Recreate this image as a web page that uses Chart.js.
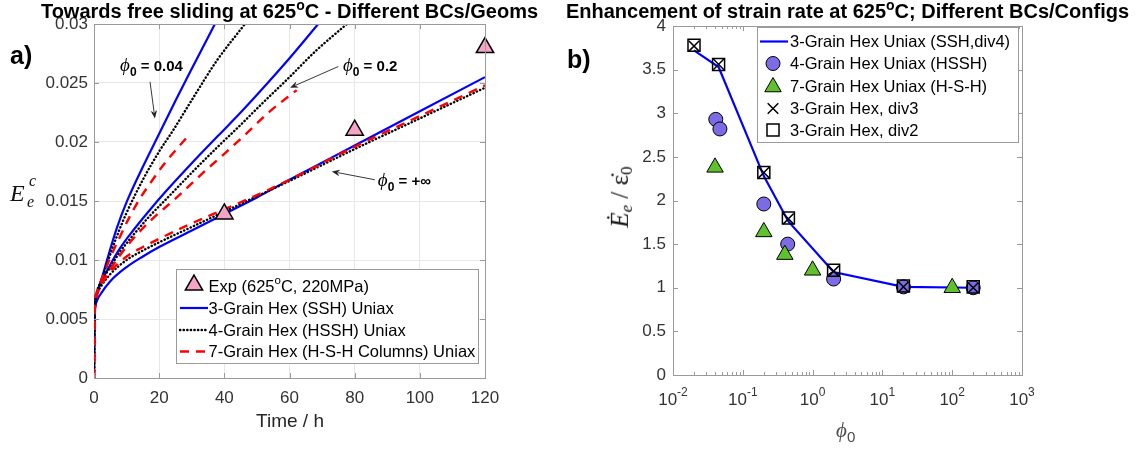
<!DOCTYPE html>
<html><head><meta charset="utf-8">
<script src="https://cdn.jsdelivr.net/npm/chart.js@4.4.1/dist/chart.umd.min.js"></script>
<style>
html,body{margin:0;padding:0;background:#fff;}
body{width:1148px;height:451px;position:relative;overflow:hidden;font-family:"Liberation Sans",Arial,sans-serif;}
canvas{position:absolute;top:0;}
.lbl{position:absolute;white-space:nowrap;line-height:1;}
.ttl{font-weight:bold;font-size:20px;color:#000;transform:translateX(-50%);top:1px;}
.ttl sup{font-size:0.7em;vertical-align:0;position:relative;top:-0.55em;line-height:0;}
.serif{font-family:"Liberation Serif","DejaVu Serif",serif;}
</style></head><body>
<canvas id="cA" width="560" height="451" style="left:0;width:560px;height:451px"></canvas>
<canvas id="cB" width="588" height="451" style="left:560px;width:588px;height:451px"></canvas>
<div class="lbl ttl" style="left:289.5px">Towards free sliding at 625<sup>o</sup>C - Different BCs/Geoms</div>
<div class="lbl ttl" style="left:847.5px">Enhancement of strain rate at 625<sup>o</sup>C; Different BCs/Configs</div>
<div class="lbl" style="left:10px;top:43px;font-weight:bold;font-size:25px">a)</div>
<div class="lbl" style="left:567px;top:47px;font-weight:bold;font-size:25px">b)</div>
<div class="lbl" style="left:290px;top:411px;font-size:19px;color:#262626;transform:translateX(-50%)">Time / h</div>
<div class="lbl serif" style="left:10px;top:181px;font-size:24px;font-style:italic;color:#111">E</div>
<div class="lbl serif" style="left:29px;top:173px;font-size:16px;font-style:italic;color:#111">c</div>
<div class="lbl serif" style="left:27px;top:194px;font-size:16px;font-style:italic;color:#111">e</div>
<div class="lbl serif" style="left:621px;top:197px;transform:translate(-50%,-50%) rotate(-90deg);font-size:25px;color:#111"><i>Ė</i><sub style="font-size:0.68em;font-style:italic;vertical-align:-0.25em">e</sub> / <span>ε̇</span><sub style="font-size:0.68em;vertical-align:-0.25em">0</sub></div>
<div class="lbl serif" style="left:836px;top:420px;font-size:21px;font-style:italic;color:#4d4d4d">ϕ<sub style="font-size:0.72em;font-style:normal;font-family:'Liberation Sans',Arial,sans-serif;vertical-align:-0.3em">0</sub></div>
<script>
// ---------- Panel a) data: time (h) and equivalent creep strain ----------
const expTime   = [40, 80, 120];
const expStrain = [0.0139, 0.0210, 0.0280];

// phi0 = 0.04
const tBlue004  = [0,0.1,0.3,1,2,4,7,10,15,20,25,30,37.1];
const eBlue004  = [0,0.0045,0.0062,0.0073,0.0081,0.0100,0.0127,0.0149,0.0179,0.0207,0.0235,0.0262,0.0300];
const tBlack004 = [0,0.1,0.3,1,2,4,7,10,15,20,24.3,31,37.7,46.3];
const eBlack004 = [0,0.0045,0.0062,0.0074,0.0081,0.0097,0.0120,0.0140,0.0168,0.0192,0.0210,0.0240,0.0269,0.0300];
const tRed004   = [0,0.1,0.3,1,2,5,8,11,14.1,18,22,26,29.5];
const eRed004   = [0,0.0045,0.0062,0.0074,0.0081,0.0102,0.0120,0.0137,0.0152,0.0168,0.0183,0.0196,0.0207];
// phi0 = 0.2
const tBlue02   = [0,0.1,0.3,1,2,5,8,12,17,22,30,38,45,51,60,68.8];
const eBlue02   = [0,0.0045,0.0060,0.0072,0.0080,0.0096,0.0110,0.0125,0.0142,0.0158,0.0182,0.0205,0.0225,0.0243,0.0271,0.0300];
const tBlack02  = [0,0.1,0.3,1,2,5,8,12,17,23,30,38,44.8,51,60,68,77.6];
const eBlack02  = [0,0.0045,0.0060,0.0072,0.0080,0.0094,0.0107,0.0121,0.0137,0.0154,0.0174,0.0196,0.0214,0.0231,0.0255,0.0277,0.0300];
const tRed02    = [0,0.1,0.3,1,2,5,8,12,18,25.4,33.5,40,46.3,54,62.2];
const eRed02    = [0,0.0045,0.0060,0.0071,0.0078,0.0092,0.0104,0.0118,0.0135,0.0153,0.0174,0.0190,0.0206,0.0226,0.0244];
// phi0 = +inf
const tBlueInf  = [0,0.1,0.3,1,2,5,10,15,20,30,40,50,60,80,100,120];
const eBlueInf  = [0,0.0045,0.0058,0.0066,0.0071,0.0082,0.0094,0.0103,0.0111,0.0125,0.0139,0.0153,0.0168,0.0197,0.0226,0.0255];
const tBlackInf = [0,0.1,0.3,1,2,5,10,15,20,30,40,50,60,80,100,120];
const eBlackInf = [0,0.0045,0.0060,0.0071,0.0077,0.0088,0.0100,0.0108,0.0115,0.0128,0.0141,0.0154,0.0167,0.0194,0.0220,0.0246];
const tRedInf   = [0,0.1,0.3,1,2,5,10,15,20,30,40,50,60,80,100,120];
const eRedInf   = [0,0.0045,0.0060,0.0072,0.0078,0.0090,0.0103,0.0111,0.0118,0.0131,0.0143,0.0155,0.0168,0.0196,0.0222,0.0248];

const xTicksA = [0,20,40,60,80,100,120];
const yTicksA = [0,0.005,0.01,0.015,0.02,0.025,0.03];

// annotation anchors (data units): label start, arrow tail, arrow head
const annLabels = ['0.04', '0.2', '+\u221e'];
const annText   = [[8.0,0.0265],[76.4,0.0265],[87.1,0.0168]];
const annTail   = [[17.2,0.0251],[75.0,0.0264],[86.2,0.0168]];
const annHead   = [[18.7,0.0220],[60.2,0.0246],[73.0,0.0175]];

// ---------- Panel b) data ----------
const phiLine  = [0.02, 0.045, 0.2, 0.45, 2, 20, 200];
const rateLine = [3.72, 3.53, 2.28, 1.76, 1.18, 1.01, 1.00];
const phi4     = [0.041, 0.047, 0.2, 0.44, 2, 20, 200];
const rate4    = [2.93, 2.82, 1.96, 1.50, 1.10, 1.01, 1.00];
const phi7     = [0.04, 0.2, 0.4, 1, 100];
const rate7    = [2.38, 1.64, 1.38, 1.20, 1.00];
const phiDiv3  = [0.02, 0.045, 0.2, 0.45, 2, 20, 200];
const rateDiv3 = [3.77, 3.56, 2.32, 1.79, 1.19, 1.01, 1.00];
const phiDiv2  = [0.02, 0.045, 0.2, 0.45, 2, 20, 200];
const rateDiv2 = [3.78, 3.56, 2.32, 1.80, 1.20, 1.02, 1.01];
const xDecadesB = [-2,-1,0,1,2,3];

const AXIS = '#9a9a9a', GRID = '#e8e8e8', TICK = '#333';
const FONT = '"Liberation Sans", Arial, sans-serif';
const SERIF = '"Liberation Serif","DejaVu Serif",serif';
Chart.defaults.font.family = FONT;

const pts = (xs, ys) => xs.map((x, i) => ({x, y: ys[i]}));
const BLUE = '#0000ff', RED = '#ff0000', BLACK = '#000';
const styleBlue  = {borderColor: BLUE, borderWidth: 2.2, borderDash: []};
const styleBlack = {borderColor: BLACK, borderWidth: 2.4, borderDash: [0.3, 3.3], borderCapStyle: 'round'};
const styleRed   = {borderColor: RED, borderWidth: 2.4, borderDash: [9, 7]};
function curve(xs, ys, st){
  return Object.assign({data: pts(xs, ys), showLine: true, pointRadius: 0, fill: false,
    cubicInterpolationMode: 'monotone'}, st);
}
const expStyle = {pointStyle: 'triangle', pointRadius: 10, backgroundColor: '#f6a3c8', borderColor: '#000', borderWidth: 1.5};

function richText(ctx, x, y, parts){
  let cx = x;
  parts.forEach(p => { ctx.font = p.font; ctx.fillText(p.t, cx, y + (p.dy || 0)); cx += ctx.measureText(p.t).width; });
  return cx;
}
function arrow(ctx, x0, y0, x1, y1){
  ctx.save(); ctx.strokeStyle = '#222'; ctx.fillStyle = '#222'; ctx.lineWidth = 0.9;
  const a = Math.atan2(y1 - y0, x1 - x0), L = 8, W = 3.2;
  ctx.beginPath(); ctx.moveTo(x0, y0); ctx.lineTo(x1 - L*0.8*Math.cos(a), y1 - L*0.8*Math.sin(a)); ctx.stroke();
  ctx.beginPath(); ctx.moveTo(x1, y1);
  ctx.lineTo(x1 - L*Math.cos(a) + W*Math.sin(a), y1 - L*Math.sin(a) - W*Math.cos(a));
  ctx.lineTo(x1 - L*0.7*Math.cos(a), y1 - L*0.7*Math.sin(a));
  ctx.lineTo(x1 - L*Math.cos(a) - W*Math.sin(a), y1 - L*Math.sin(a) + W*Math.cos(a));
  ctx.closePath(); ctx.fill(); ctx.restore();
}
function boxAndTicks(ctx, a, xs, ys, xMinor){
  ctx.save(); ctx.strokeStyle = AXIS; ctx.lineWidth = 1;
  ctx.beginPath();
  ctx.moveTo(a.left, a.top + 0.5); ctx.lineTo(a.right + 0.5, a.top + 0.5); ctx.lineTo(a.right + 0.5, a.bottom);
  xs.forEach(p => { const px = Math.round(p) + 0.5; ctx.moveTo(px, a.bottom); ctx.lineTo(px, a.bottom - 5); ctx.moveTo(px, a.top); ctx.lineTo(px, a.top + 5); });
  (xMinor || []).forEach(p => { const px = Math.round(p) + 0.5; ctx.moveTo(px, a.bottom); ctx.lineTo(px, a.bottom - 3); ctx.moveTo(px, a.top); ctx.lineTo(px, a.top + 3); });
  ys.forEach(p => { const py = Math.round(p) + 0.5; ctx.moveTo(a.left, py); ctx.lineTo(a.left + 5, py); ctx.moveTo(a.right, py); ctx.lineTo(a.right - 5, py); });
  ctx.stroke(); ctx.restore();
}
function legendFrame(ctx, x0, y0, x1, y1){
  ctx.save(); ctx.fillStyle = '#fff'; ctx.fillRect(x0, y0, x1 - x0, y1 - y0);
  ctx.strokeStyle = AXIS; ctx.lineWidth = 1; ctx.strokeRect(Math.round(x0) + 0.5, Math.round(y0) + 0.5, Math.round(x1 - x0), Math.round(y1 - y0));
  ctx.restore();
}
function lineSample(ctx, x0, x1, y, st){
  ctx.save(); ctx.strokeStyle = st.borderColor; ctx.lineWidth = st.borderWidth; ctx.setLineDash(st.borderDash || []);
  ctx.lineCap = st.borderCapStyle || 'butt';
  ctx.beginPath(); ctx.moveTo(x0, y); ctx.lineTo(x1, y); ctx.stroke(); ctx.restore();
}
function marker(ctx, st, x, y){
  ctx.save(); ctx.fillStyle = st.backgroundColor; ctx.strokeStyle = st.borderColor; ctx.lineWidth = st.borderWidth;
  Chart.helpers.drawPoint(ctx, {pointStyle: st.pointStyle, radius: st.pointRadius, rotation: 0, borderWidth: st.borderWidth}, x, y);
  ctx.restore();
}

const decoA = {
  id: 'decoA',
  afterDatasetsDraw(chart){
    const {ctx, chartArea: a, scales: {x, y}} = chart;
    boxAndTicks(ctx, a, xTicksA.map(v => x.getPixelForValue(v)), yTicksA.map(v => y.getPixelForValue(v)));
    ctx.save(); ctx.fillStyle = '#000'; ctx.textBaseline = 'alphabetic';
    annLabels.forEach((lab, i) => {
      const px = x.getPixelForValue(annText[i][0]), py = y.getPixelForValue(annText[i][1]) + 6;
      richText(ctx, px, py, [
        {t: '\u03d5', font: 'italic 19px ' + SERIF},
        {t: '0', font: 'bold 12px ' + FONT, dy: 5},
        {t: ' = ' + lab, font: 'bold 15px ' + FONT}
      ]);
      arrow(ctx, x.getPixelForValue(annTail[i][0]), y.getPixelForValue(annTail[i][1]),
                 x.getPixelForValue(annHead[i][0]), y.getPixelForValue(annHead[i][1]));
    });
    ctx.restore();
    const L = a.left + 82, R = a.right - 7, T = a.bottom - 109, B = a.bottom - 15;
    legendFrame(ctx, L, T, R, B);
    const rows = [T + 17, T + 39, T + 61, T + 82.5];
    const lx0 = L + 4, lx1 = L + 32, tx = L + 32.5;
    marker(ctx, expStyle, (lx0 + lx1) / 2, rows[0] - 1);
    lineSample(ctx, lx0, lx1, rows[1], styleBlue);
    lineSample(ctx, lx0, lx1, rows[2], styleBlack);
    lineSample(ctx, lx0, lx1, rows[3], styleRed);
    ctx.save(); ctx.fillStyle = '#000'; ctx.textBaseline = 'middle';
    const f = '16.5px ' + FONT;
    richText(ctx, tx, rows[0] + 1, [{t: 'Exp (625', font: f}, {t: 'o', font: '11.5px ' + FONT, dy: -6}, {t: 'C, 220MPa)', font: f}]);
    richText(ctx, tx, rows[1] + 1, [{t: '3-Grain Hex (SSH) Uniax', font: f}]);
    richText(ctx, tx, rows[2] + 1, [{t: '4-Grain Hex (HSSH) Uniax', font: f}]);
    richText(ctx, tx, rows[3] + 1, [{t: '7-Grain Hex (H-S-H Columns) Uniax', font: f}]);
    ctx.restore();
  }
};

new Chart(document.getElementById('cA'), {
  type: 'scatter',
  data: {datasets: [
    Object.assign({data: pts(expTime, expStrain), showLine: false, clip: false}, expStyle),
    curve(tRed004, eRed004, styleRed), curve(tRed02, eRed02, styleRed), curve(tRedInf, eRedInf, styleRed),
    curve(tBlack004, eBlack004, styleBlack), curve(tBlack02, eBlack02, styleBlack), curve(tBlackInf, eBlackInf, styleBlack),
    curve(tBlue004, eBlue004, styleBlue), curve(tBlue02, eBlue02, styleBlue), curve(tBlueInf, eBlueInf, styleBlue)
  ]},
  options: {
    responsive: false, animation: false, devicePixelRatio: 1,
    layout: {padding: {left: 0, right: 75, top: 24, bottom: 0}},
    plugins: {legend: {display: false}, tooltip: {enabled: false}},
    scales: {
      x: {type: 'linear', min: 0, max: 120,
          afterBuildTicks: s => { s.ticks = xTicksA.map(v => ({value: v})); },
          ticks: {padding: 10, font: {size: 17}, color: TICK, maxRotation: 0},
          grid: {color: GRID, drawTicks: false}, border: {color: AXIS},
          afterFit: s => { s.height = 73; }},
      y: {type: 'linear', min: 0, max: 0.03,
          afterBuildTicks: s => { s.ticks = yTicksA.map(v => ({value: v})); },
          ticks: {padding: 6, font: {size: 17}, color: TICK, callback: v => String(+v.toFixed(3))},
          grid: {color: GRID, drawTicks: false}, border: {color: AXIS},
          afterFit: s => { s.width = 94; }}
    }
  },
  plugins: [decoA]
});

// ---------- Panel b) ----------
const lineStyleB = {borderColor: BLUE, borderWidth: 2.2};
const circStyle  = {pointStyle: 'circle', pointRadius: 7, backgroundColor: '#7b6ce6', borderColor: '#000', borderWidth: 1};
const triStyle   = {pointStyle: 'triangle', pointRadius: 9.5, backgroundColor: '#5fc12c', borderColor: '#000', borderWidth: 1};
const crossStyle = {pointStyle: 'crossRot', pointRadius: 7.5, backgroundColor: 'rgba(0,0,0,0)', borderColor: '#000', borderWidth: 1.5};
const sqStyle    = {pointStyle: 'rect', pointRadius: 8.5, backgroundColor: 'rgba(0,0,0,0)', borderColor: '#000', borderWidth: 1.5};

const decoB = {
  id: 'decoB',
  afterDatasetsDraw(chart){
    const {ctx, chartArea: a, scales: {x, y}} = chart;
    const major = [], minor = [];
    for (let d = -2; d <= 2; d++) for (let k = 1; k <= 9; k++) (k === 1 ? major : minor).push(x.getPixelForValue(k * Math.pow(10, d)));
    major.push(x.getPixelForValue(1000));
    const yt = []; for (let v = 0; v <= 4; v += 0.5) yt.push(y.getPixelForValue(v));
    boxAndTicks(ctx, a, major, yt, minor);
    ctx.save(); ctx.fillStyle = TICK; ctx.textBaseline = 'alphabetic';
    xDecadesB.forEach(d => {
      const px = x.getPixelForValue(Math.pow(10, d));
      const e = d < 0 ? '-' + (-d) : String(d);
      ctx.font = '17px ' + FONT; const w1 = ctx.measureText('10').width;
      ctx.font = '12px ' + FONT; const w2 = ctx.measureText(e).width;
      const x0 = px - (w1 + w2) / 2;
      ctx.font = '17px ' + FONT; ctx.fillText('10', x0, a.bottom + 30);
      ctx.font = '12px ' + FONT; ctx.fillText(e, x0 + w1, a.bottom + 21);
    });
    ctx.restore();
    const L = a.left + 84, R = a.right - 4, T = a.top + 1, B = a.top + 116;
    legendFrame(ctx, L, T, R, B);
    const rows = [T + 14.5, T + 36.5, T + 59, T + 81.5, T + 103];
    const lx0 = L + 3, lx1 = L + 31, mx = L + 16, tx = L + 33;
    lineSample(ctx, lx0, lx1, rows[0], lineStyleB);
    marker(ctx, circStyle, mx, rows[1]);
    marker(ctx, triStyle, mx, rows[2] + 1);
    marker(ctx, crossStyle, mx, rows[3]);
    marker(ctx, sqStyle, mx, rows[4]);
    ctx.fillStyle = '#000'; ctx.textBaseline = 'middle'; ctx.font = '16.5px ' + FONT;
    ['3-Grain Hex Uniax (SSH,div4)', '4-Grain Hex Uniax (HSSH)', '7-Grain Hex Uniax (H-S-H)', '3-Grain Hex, div3', '3-Grain Hex, div2']
      .forEach((t, i) => ctx.fillText(t, tx, rows[i] + 1));
  }
};

new Chart(document.getElementById('cB'), {
  type: 'scatter',
  data: {datasets: [
    Object.assign({data: pts(phiLine, rateLine), showLine: true, pointRadius: 0, order: 5}, lineStyleB),
    Object.assign({data: pts(phi4, rate4), showLine: false, order: 4, clip: false}, circStyle),
    Object.assign({data: pts(phi7, rate7), showLine: false, order: 3, clip: false}, triStyle),
    Object.assign({data: pts(phiDiv3, rateDiv3), showLine: false, order: 2, clip: false}, crossStyle),
    Object.assign({data: pts(phiDiv2, rateDiv2), showLine: false, order: 1, clip: false}, sqStyle)
  ]},
  options: {
    responsive: false, animation: false, devicePixelRatio: 1,
    layout: {padding: {left: 0, right: 126, top: 26, bottom: 0}},
    plugins: {legend: {display: false}, tooltip: {enabled: false}},
    scales: {
      x: {type: 'logarithmic', min: 0.01, max: 1000,
          ticks: {display: false}, grid: {display: false, drawTicks: false}, border: {color: AXIS},
          afterFit: s => { s.height = 76; }},
      y: {type: 'linear', min: 0, max: 4,
          ticks: {stepSize: 0.5, padding: 7, font: {size: 17}, color: TICK, callback: v => String(+(+v).toFixed(1))},
          grid: {display: false, drawTicks: false}, border: {color: AXIS},
          afterFit: s => { s.width = 113; }}
    }
  },
  plugins: [decoB]
});
</script>
</body></html>
